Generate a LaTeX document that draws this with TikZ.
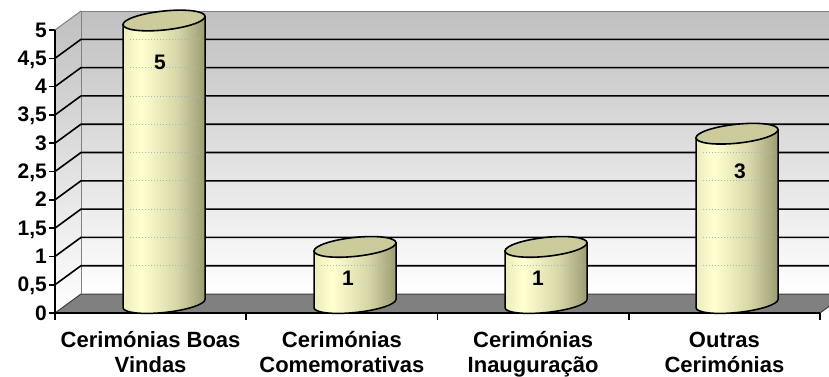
\documentclass[tikz,border=0pt]{standalone}
\usepackage{fontspec}
\setmainfont{Liberation Sans}
\usepackage{xcolor}
\usepackage{tikz}
\usetikzlibrary{positioning, arrows.meta}

\definecolor{wallgray}{HTML}{C0C0C0}
\definecolor{floorgray}{HTML}{808080}
\definecolor{barA}{HTML}{ECECBC}
\definecolor{barB}{HTML}{FFFFD0}
\definecolor{barC}{HTML}{D6D6A8}
\definecolor{barD}{HTML}{9C9C72}
\definecolor{bartop}{HTML}{CBCB9C}

\pgfdeclarehorizontalshading{cylshade}{100bp}{color(0bp)=(barA); color(25bp)=(barA);
  color(36bp)=(barB); color(58bp)=(barC); color(75bp)=(barD); color(100bp)=(barD)}

\tikzset{
  grid line/.style={line width=1.6pt, black},
  wall edge/.style={line width=1pt, floorgray},
  axis line/.style={line width=1.6pt, black},
  bar body/.style={shading=cylshade, draw=black, line width=1.5pt},
  bar top/.style={fill=bartop, draw=black, line width=1.6pt},
  bar hint/.style={line width=0.8pt, gray!60, dash pattern=on 1pt off 2pt},
  num label/.style={font=\fontsize{21}{21}\selectfont\bfseries, inner sep=0pt},
  cat label/.style={font=\fontsize{22}{25}\selectfont\bfseries, inner sep=0pt, align=center, anchor=base},
}

\begin{document}
\begin{tikzpicture}[x=1pt, y=1pt]
  \useasboundingbox (-55,-63) rectangle (774,313);
  \clip (-55,-63) rectangle (774,313);

  % walls
  \shade[top color=wallgray, bottom color=white] (26,19) rectangle (800,302);
  \shade[top color=wallgray, bottom color=white] (0,0) -- (0,283) -- (26,302) -- (26,19) -- cycle;
  \draw[wall edge] (800,302) -- (26,302) -- (26,19);
  \draw[wall edge] (0,283) -- (26,302);
  \foreach \v in {1,...,9}
    \draw[grid line] (0,\v*28.3) -- (26,19+\v*28.3) -- (800,19+\v*28.3);

  % floor
  \draw[fill=floorgray, draw=black!75, line width=1pt]
      (0,0) -- (765,0) -- (791,19) -- (26,19) -- cycle;

  % axes
  \draw[axis line] (0,0) -- (0,283);
  \draw[axis line] (0,0) -- (765,0);
  \foreach \v/\t in {0/0, 1/{0,5}, 2/1, 3/{1,5}, 4/2, 5/{2,5}, 6/3, 7/{3,5}, 8/4, 9/{4,5}, 10/5} {
    \draw[axis line] (-6,\v*28.3) -- (0,\v*28.3);
    \node[num label, anchor=base east] (ylab\v) at (-8,\v*28.3-7) {\t};
  }
  \foreach \i in {0,...,4}
    \draw[axis line] (\i*191.25,0) -- (\i*191.25,-7);

  % cylinders
  \foreach \cx/\h/\n in {109/283/9, 300/56.6/1, 491/56.6/1, 682/169.8/5} {
    \begin{scope}[shift={(\cx,9.5)}, yslant=0.1]
      \path[bar body] (-41,\h) -- (-41,0)
          arc[start angle=180, end angle=360, x radius=41, y radius=9] -- (41,\h) -- cycle;
    \end{scope}
    \foreach \k in {1,...,\n}
      \draw[bar hint] (\cx-34,19+\k*28.3) -- (\cx+38,19+\k*28.3);
    \begin{scope}[shift={(\cx,9.5)}, yslant=0.1]
      \path[bar top] (0,\h) ellipse [x radius=41, y radius=9.5];
    \end{scope}
  }

  \node[num label] (val1) at (105,251) {5};
  \node[num label] (val2) at (293,35) {1};
  \node[num label] (val3) at (483,35) {1};
  \node[num label] (val4) at (685,142) {3};

  \node[cat label] (cat1) at (95.6,-59) {Cerimónias Boas\\Vindas};
  \node[cat label] (cat2) at (286.9,-59) {Cerimónias\\Comemorativas};
  \node[cat label] (cat3) at (478.1,-59) {Cerimónias\\Inauguração};
  \node[cat label] (cat4) at (669.4,-59) {Outras\\Cerimónias};
\end{tikzpicture}
\end{document}
